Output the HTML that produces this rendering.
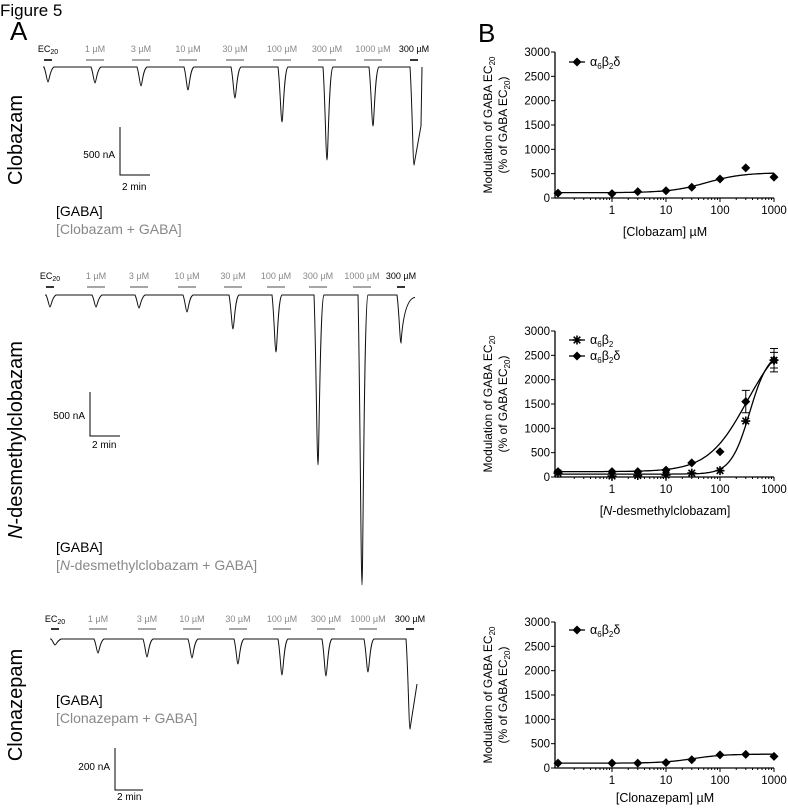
<!DOCTYPE html>
<html><head><meta charset="utf-8"><style>
body{margin:0;background:#fff;width:788px;height:808px;overflow:hidden;font-family:"Liberation Sans",sans-serif}
svg{display:block}
</style></head><body>
<svg id="fig" width="788" height="808" viewBox="0 0 788 808" xmlns="http://www.w3.org/2000/svg">
<text x="0" y="16" font-size="17">Figure 5</text>
<text x="10" y="40" font-size="26">A</text>
<text x="478" y="42" font-size="26">B</text>
<g id="left"></g>
<g id="right"></g>
</svg>
<script>
const NS='http://www.w3.org/2000/svg';
function el(tag,attrs,parent,txt){const e=document.createElementNS(NS,tag);for(const k in attrs)e.setAttribute(k,attrs[k]);if(txt!==undefined)e.textContent=txt;parent.appendChild(e);return e;}

// ---- Trace data (peak depth in px below baseline) ----
const traceLabels=['EC20','1 µM','3 µM','10 µM','30 µM','100 µM','300 µM','1000 µM','300 µM'];
const t1PeakX=[48,95,141,188,235,282,327,373,414];
const t1Depth=[15,16,19,23,31,55,93,59,98];
const t2PeakX=[50,96,139,187,233,276,318,362,401];
const t2Depth=[12,12,13,17,34,57,170,290,48];
const t3PeakX=[55,98,147,192,238,282,326,368,410];
const t3Depth=[6,14,18,19,25,36,37,33,90];

const left=document.getElementById('left');
function trace(cfg){
  const g=el('g',{},left);
  
  
  cfg.px.forEach((x,i)=>{
    const last=i===cfg.px.length-1;
    const lab=el('text',{x:x,y:cfg.labY,'font-size':9,'text-anchor':'middle',fill:(i===0||last)?'#000':'#888'},g);
    
    
    if(i===0){lab.textContent='EC';el('tspan',{'font-size':7,dy:2},lab,'20');}
    else lab.textContent=traceLabels[i];
    const w=(i===0||last)?4:9;
    const b=el('line',{x1:x-w,x2:x+w,y1:cfg.barY,y2:cfg.barY,stroke:(i===0||last)?'#000':'#888','stroke-width':1.6},g);
    
    
  });
  let d='M'+(cfg.px[0]-5)+','+cfg.base;
  cfg.px.forEach((x,i)=>{
    const by=cfg.base, dep=cfg.depth[i], dy=by+dep;
    const last=i===cfg.px.length-1;
    d+=` L${x-4},${by} C${x-2},${by+dep*0.3} ${x-1},${dy} ${x},${dy}`;
    if(last){
      const ey=by+dep*cfg.endFrac;
      if(cfg.endMode==='curve') d+=` Q${x+3},${by+4} ${x+14},${ey}`;
      else { d+=` L${x+7},${ey}`; if(cfg.endMode==='jump') d+=` L${x+8},${by}`; }
    } else {
      d+=` C${x+1},${dy} ${x+2},${by+2} ${x+6},${by}`;
      d+=` L${cfg.px[i+1]-4},${by}`;
    }
  });
  const p=el('path',{d:d,fill:'none',stroke:'#111','stroke-width':1},g);
  
  
}
trace({name:'clobazam-trace',px:t1PeakX,depth:t1Depth,base:67,labY:52,barY:60,endFrac:0.6,endMode:'jump'});
trace({name:'desmethylclobazam-trace',px:t2PeakX,depth:t2Depth,base:295,labY:279,barY:287,endFrac:0.05,endMode:'curve'});
trace({name:'clonazepam-trace',px:t3PeakX,depth:t3Depth,base:639,labY:622,barY:629,endFrac:0.5,endMode:'line'});

function scale(x,y1,y2,x2,vlab,vy,hy,name){
  const g=el('g',{},left);
  
  
  el('path',{d:`M${x},${y1} V${y2} H${x2}`,fill:'none',stroke:'#000','stroke-width':1},g);
  el('text',{x:x-5,y:vy,'font-size':10,'text-anchor':'end'},g,vlab);
  el('text',{x:x+2,y:hy,'font-size':10},g,'2 min');
}
scale(120,127,175,150,'500 nA',158,190,'clobazam-scale-bar');
scale(90,392,436,120,'500 nA',419,448,'desmethyl-scale-bar');
scale(115,748,790,143,'200 nA',770,800,'clonazepam-scale-bar');

function legendA(y,txt,name){
  const g=el('g',{},left);
  
  
  el('text',{x:56,y:y,'font-size':14},g,'[GABA]');
  const t=el('text',{x:56,y:y+18,'font-size':14,fill:'#888'},g);
  t.innerHTML=txt;
}
legendA(216,'[Clobazam + GABA]','clobazam-legend');
legendA(552,'[<tspan font-style="italic">N</tspan>-desmethylclobazam + GABA]','desmethyl-legend');
legendA(705,'[Clonazepam + GABA]','clonazepam-legend');

function rowLabel(cy,html,name){
  const t=el('text',{x:0,y:0,'font-size':20,'text-anchor':'middle',transform:`translate(22,${cy}) rotate(-90)`},left);
  t.innerHTML=html;
  
  
}
rowLabel(140,'Clobazam','clobazam-row-label');
rowLabel(440,'<tspan font-style="italic">N</tspan>-desmethylclobazam','desmethyl-row-label');
rowLabel(705,'Clonazepam','clonazepam-row-label');

// ---- Dose-response data ----
const conc=[0.1,1,3,10,30,100,300,1000];
const yTicks=[0,500,1000,1500,2000,2500,3000];
const xTicks=[1,10,100,1000];
const p1Diamond=[100,90,130,150,220,390,620,430];
const p2Diamond=[110,110,110,140,290,520,1550,2400];
const p2Star=[80,20,30,40,80,130,1150,2400];
const p2DiamondErr=[0,0,0,0,0,0,230,240];
const p2StarErr=[0,0,0,0,0,0,0,160];
const p3Diamond=[100,100,100,110,170,270,280,240];
// Hill fit params: bottom, top, logEC50, slope
const p1Fit=[110,520,1.75,1.3];
const p2DiamondFit=[110,3000,2.5,1.2];
const p2StarFit=[60,2600,2.55,2.5];
const p3Fit=[100,285,1.5,1.5];

const right=document.getElementById('right');
function hill(p,lx){return p[0]+(p[1]-p[0])/(1+Math.pow(10,(p[2]-lx)*p[3]));}
function diamond(g,x,y){const s=4.5;const m=el('path',{d:`M${x},${y-s} L${x+s},${y} L${x},${y+s} L${x-s},${y} Z`,fill:'#000'},g);}
function star(g,x,y){const s=4.5;const m=el('path',{d:`M${x-s},${y}H${x+s}M${x},${y-s}V${y+s}M${x-3.3},${y-3.3}L${x+3.3},${y+3.3}M${x-3.3},${y+3.3}L${x+3.3},${y-3.3}`,stroke:'#000','stroke-width':1.6},g);}

function chart(cfg){
  const g=el('g',{},right);
  
  
  const x0=555,x1=774,y0=cfg.y0,H=146;
  const sx=c=>612+(Math.log10(c))*54;
  const sy=v=>y0-v/3000*H;
  const ax=el('g',{},g);
  
  el('line',{x1:x0,x2:x0,y1:sy(3000),y2:y0,stroke:'#000','stroke-width':1.3},ax);
  yTicks.forEach(v=>{el('line',{x1:x0-4,x2:x0,y1:sy(v),y2:sy(v),stroke:'#000'},ax);el('text',{x:x0-5,y:sy(v)+4,'font-size':11.5,'text-anchor':'end'},ax,v);});
  const bx=el('g',{},g);
  
  el('line',{x1:x0,x2:x1,y1:y0,y2:y0,stroke:'#000','stroke-width':1.3},bx);
  for(let dec=-1;dec<3;dec++)for(let k=2;k<=9;k++){const xx=sx(k*Math.pow(10,dec));if(xx>x0)el('line',{x1:xx,x2:xx,y1:y0,y2:y0+2,stroke:'#000'},bx);}
  xTicks.forEach(v=>{el('line',{x1:sx(v),x2:sx(v),y1:y0,y2:y0+4,stroke:'#000'},bx);el('text',{x:sx(v),y:y0+16,'font-size':11.5,'text-anchor':'middle'},bx,v);});
  const xt=el('text',{x:665,y:y0+cfg.xtOff,'font-size':12.5,'text-anchor':'middle'},g);xt.innerHTML=cfg.xTitle;
  
  const cy=y0-73;
  const yt=el('text',{'font-size':12,'text-anchor':'middle',transform:`translate(492,${cy}) rotate(-90)`},g);
  yt.innerHTML='Modulation of GABA EC<tspan font-size="8" dy="3">20</tspan>';
  
  const yt2=el('text',{'font-size':12,'text-anchor':'middle',transform:`translate(507,${cy}) rotate(-90)`},g);
  yt2.innerHTML='(% of GABA EC<tspan font-size="8" dy="3">20</tspan><tspan dy="-3">)</tspan>';
  
  cfg.series.forEach(s=>{
    const sg=el('g',{},g);
    
    let d='';for(let i=0;i<=120;i++){const lx=-1+i*4/120;d+=(i?'L':'M')+sx(Math.pow(10,lx)).toFixed(1)+','+sy(hill(s.fit,lx)).toFixed(1);}
    const c=el('path',{d:d,fill:'none',stroke:'#000','stroke-width':1.3},sg);
    
    conc.forEach((cc,i)=>{
      const e=s.err?s.err[i]:0;
      if(e){const xe=sx(cc);el('path',{d:`M${xe},${sy(s.vals[i]-e)}V${sy(s.vals[i]+e)}M${xe-4},${sy(s.vals[i]+e)}h8M${xe-4},${sy(s.vals[i]-e)}h8`,stroke:'#000','stroke-width':1},sg);}
      s.mark(sg,sx(cc),sy(s.vals[i]));
    });
    const lg=el('g',{},g);
    
    el('line',{x1:569,x2:585,y1:s.ly,y2:s.ly,stroke:'#000','stroke-width':1.3},lg);
    s.mark(lg,577,s.ly);
    const lt=el('text',{x:590,y:s.ly+4,'font-size':12.5},lg);lt.innerHTML=s.label;
  });
}
const lbl2='α<tspan font-size="8" dy="3">6</tspan><tspan dy="-3">β</tspan><tspan font-size="8" dy="3">2</tspan>';
const lbl3=lbl2+'<tspan dy="-3">δ</tspan>';
chart({name:'clobazam-dose-response',y0:198,xtOff:38,xTitle:'[Clobazam] µM',series:[{name:'a6b2d-series',vals:p1Diamond,fit:p1Fit,mark:diamond,label:lbl3,ly:62}]});
chart({name:'desmethyl-dose-response',y0:477,xtOff:38,xTitle:'[<tspan font-style="italic">N</tspan>-desmethylclobazam]',series:[
 {name:'a6b2-series',vals:p2Star,err:p2StarErr,fit:p2StarFit,mark:star,label:lbl2,ly:340},
 {name:'a6b2d-series',vals:p2Diamond,err:p2DiamondErr,fit:p2DiamondFit,mark:diamond,label:lbl3,ly:356}]});
chart({name:'clonazepam-dose-response',y0:768,xtOff:34,xTitle:'[Clonazepam] µM',series:[{name:'a6b2d-series',vals:p3Diamond,fit:p3Fit,mark:diamond,label:lbl3,ly:630}]});
</script>
</body></html>
